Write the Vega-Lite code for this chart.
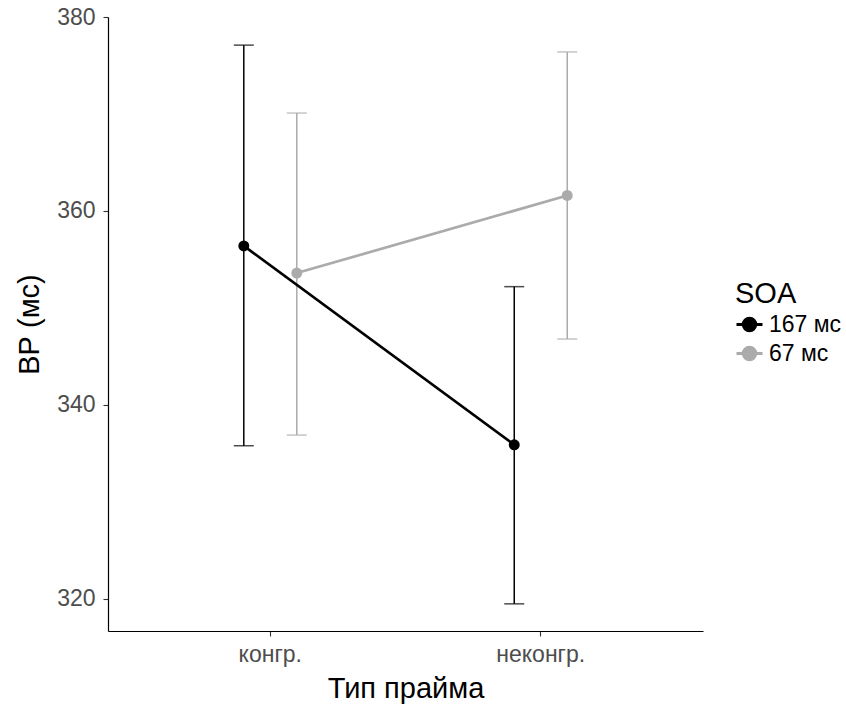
{
  "$schema": "https://vega.github.io/schema/vega-lite/v6.json",
  "width": 595,
  "height": 614,
  "autosize": {"type": "none"},
  "padding": {"left": 108, "top": 17, "right": 143, "bottom": 73},
  "background": "white",
  "config": {
    "font": "Liberation Sans",
    "view": {"stroke": null},
    "axis": {"grid": false, "domainColor": "#000000", "domainWidth": 1.2, "tickColor": "#333333", "tickSize": 5, "tickWidth": 1.1, "labelColor": "#4d4d4d", "labelFontSize": 23, "titleFontSize": 29, "titleFontWeight": "normal", "titleColor": "#000000", "labelFont": "Liberation Sans", "titleFont": "Liberation Sans"}
  },
  "data": {"values": [
    {"prime": "конгр.", "soa": "167 мс", "rt": 356.4, "lo": 335.8, "hi": 377.1},
    {"prime": "неконгр.", "soa": "167 мс", "rt": 335.9, "lo": 319.5, "hi": 352.2},
    {"prime": "конгр.", "soa": "67 мс", "rt": 353.6, "lo": 336.9, "hi": 370.1},
    {"prime": "неконгр.", "soa": "67 мс", "rt": 361.6, "lo": 346.8, "hi": 376.4}
  ]},
  "encoding": {
    "x": {"field": "prime", "type": "nominal", "sort": ["конгр.", "неконгр."],
      "scale": {"type": "band", "paddingInner": 0, "paddingOuter": 0.1},
      "axis": {"title": "Тип прайма", "labelAngle": 0, "labelPadding": 7, "titlePadding": 8, "labelFontSize": 23, "titleFontSize": 29}},
    "xOffset": {"field": "soa", "type": "nominal", "sort": ["167 мс", "67 мс"],
      "scale": {"type": "point", "padding": 0, "range": [108.75, 161.75]}},
    "color": {"field": "soa", "type": "nominal",
      "scale": {"domain": ["167 мс", "67 мс"], "range": ["#000000", "#ABABAB"]},
      "legend": {"title": "SOA", "orient": "none", "legendX": 627, "legendY": 263, "padding": 0,
        "titleFontSize": 29, "titleFontWeight": "normal", "titleColor": "#000000",
        "labelFontSize": 23, "labelColor": "#000000", "titlePadding": 1, "rowPadding": 2,
        "symbolType": "M-1,0L1,0M-0.48,0A0.48,0.48 0 1,1 0.48,0A0.48,0.48 0 1,1 -0.48,0Z",
        "symbolSize": 676, "symbolStrokeWidth": 3, "symbolOpacity": 1, "labelOffset": 5}}
  },
  "layer": [
    {"mark": {"type": "rule", "strokeWidth": 1.5},
      "encoding": {"y": {"field": "lo", "type": "quantitative"}, "y2": {"field": "hi"}}},
    {"mark": {"type": "tick", "size": 20, "thickness": 1.5, "orient": "horizontal"},
      "encoding": {"y": {"field": "hi", "type": "quantitative"}}},
    {"mark": {"type": "tick", "size": 20, "thickness": 1.5, "orient": "horizontal"},
      "encoding": {"y": {"field": "lo", "type": "quantitative"}}},
    {"mark": {"type": "line", "strokeWidth": 2.7},
      "encoding": {"y": {"field": "rt", "type": "quantitative"}, "detail": {"field": "soa"}}},
    {"mark": {"type": "point", "filled": true, "opacity": 1, "size": 120},
      "encoding": {"y": {"field": "rt", "type": "quantitative",
        "scale": {"domain": [316.7, 380], "nice": false, "zero": false},
        "axis": {"title": "ВР (мс)", "values": [320, 340, 360, 380], "labelPadding": 8, "titlePadding": 12, "labelFontSize": 23, "titleFontSize": 29}}}}
  ]
}
